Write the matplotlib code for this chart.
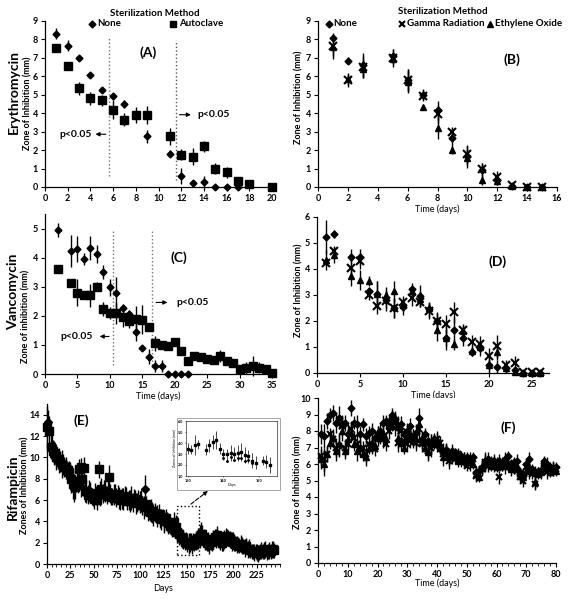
import matplotlib
matplotlib.use("Agg")
import matplotlib.pyplot as plt
from matplotlib.patches import Rectangle
from matplotlib.lines import Line2D
from matplotlib.ticker import MultipleLocator

plt.rcParams['font.family'] = ['Lato', 'DejaVu Sans']
plt.rcParams['font.weight'] = 'bold'
plt.rcParams['font.size'] = 6

# ---------------- data ----------------
# (A) erythromycin
a_none_x = [1, 2, 3, 4, 5, 6, 7, 9, 11, 12, 13, 14, 15, 16, 17]
a_none_y = [8.3, 7.65, 7.0, 6.05, 5.25, 4.95, 4.5, 2.75, 1.8, 0.6, 0.2, 0.25, 0, 0, 0]
a_none_e = [0.3, 0.3, 0.15, 0.15, 0.15, 0.1, 0.2, 0.35, 0.2, 0.45, 0.2, 0.35, 0.05, 0.05, 0.05]
a_auto_x = [1, 2, 3, 4, 5, 6, 7, 8, 9, 11, 12, 13, 14, 15, 16, 17, 18, 20]
a_auto_y = [7.55, 6.55, 5.35, 4.8, 4.7, 4.2, 3.65, 3.9, 3.9, 2.75, 1.75, 1.65, 2.2, 1.0, 0.8, 0.35, 0.15, 0.0]
a_auto_e = [0.05, 0.15, 0.35, 0.35, 0.3, 0.5, 0.35, 0.45, 0.5, 0.45, 0.3, 0.45, 0.3, 0.3, 0.3, 0.2, 0.1, 0.05]

# (B) erythromycin, gamma / EtO
b_x = [1, 2, 3, 5, 6, 7, 8, 9, 10, 11, 12, 13, 14, 15]
b_none_y = [8.1, 6.85, 6.6, 7.1, 5.8, 5.0, 4.15, 2.65, 1.7, 0.9, 0.4, 0.05, 0, 0]
b_none_e = [0.15, 0.2, 0.65, 0.4, 0.6, 0.3, 0.5, 0.6, 0.5, 0.4, 0.3, 0.05, 0.02, 0.02]
b_gam_y = [7.65, 5.8, 6.5, 7.0, 5.8, 4.95, 3.95, 3.0, 1.8, 1.0, 0.55, 0.1, 0, 0]
b_gam_e = [0.7, 0.4, 0.6, 0.5, 0.6, 0.3, 0.5, 0.2, 0.5, 0.3, 0.3, 0.05, 0.02, 0.02]
b_eto_y = [7.6, 5.85, 6.4, 6.95, 5.7, 4.35, 3.2, 2.0, 1.55, 0.4, 0.3, 0.05, 0, 0]
b_eto_e = [0.5, 0.3, 0.5, 0.3, 0.6, 0.1, 0.6, 0.2, 0.5, 0.3, 0.2, 0.05, 0.02, 0.02]

# (C) vancomycin
c_none_x = [2, 4, 5, 6, 7, 8, 9, 10, 11, 12, 13, 14, 15, 16, 17, 18, 19, 20, 21, 22]
c_none_y = [4.95, 4.22, 4.3, 3.95, 4.33, 4.13, 3.5, 2.98, 2.77, 2.27, 2.05, 1.45, 0.9, 0.6,
            0.28, 0.27, 0, 0, 0, 0]
c_none_e = [0.25, 0.55, 0.45, 0.2, 0.4, 0.3, 0.25, 0.3, 0.55, 0.15, 0.15, 0.3, 0.1, 0.25,
            0.2, 0.2, 0.02, 0.02, 0.02, 0.02]
c_auto_x = [2, 4, 5, 6, 7, 8, 9, 10, 11, 12, 13, 14, 15, 16, 17, 18, 19, 20, 21, 22, 23,
            24, 25, 26, 27, 28, 29, 30, 31, 32, 33, 34, 35]
c_auto_y = [3.6, 3.13, 2.8, 2.72, 2.7, 3.0, 2.23, 2.1, 2.08, 1.95, 1.82, 1.88, 1.87, 1.62,
            1.05, 0.98, 0.97, 1.1, 0.8, 0.45, 0.62, 0.57, 0.53, 0.48, 0.62, 0.43, 0.37,
            0.17, 0.2, 0.28, 0.22, 0.17, 0.02]
c_auto_e = [0.1, 0.05, 0.45, 0.15, 0.4, 0.15, 0.25, 0.2, 0.35, 0.35, 0.25, 0.45, 0.5, 0.1,
            0.25, 0.1, 0.05, 0.15, 0.05, 0.1, 0.05, 0.05, 0.1, 0.15, 0.2, 0.1, 0.05,
            0.15, 0.2, 0.35, 0.2, 0.1, 0.05]

# (D) vancomycin, gamma / EtO
d_x = [1, 2, 4, 5, 6, 7, 8, 9, 10, 11, 12, 13, 14, 15, 16, 17, 18, 19, 20, 21, 22, 23, 24, 25, 26]
d_none_y = [5.22, 5.35, 4.48, 4.48, 3.15, 3.05, 2.8, 2.5, 2.55, 3.25, 2.97, 2.45, 2.0, 1.35,
            1.65, 1.35, 0.8, 0.95, 0.3, 0.25, 0.2, 0.1, 0, 0, 0]
d_none_e = [0.65, 0.15, 0.3, 0.3, 0.15, 0.5, 0.3, 0.4, 0.3, 0.2, 0.4, 0.3, 0.35, 0.45,
            0.5, 0.3, 0.15, 0.3, 0.3, 0.25, 0.2, 0.1, 0.02, 0.02, 0.02]
d_gam_y = [4.25, 4.7, 4.02, 4.3, 3.0, 2.57, 2.78, 2.5, 2.75, 2.87, 2.72, 2.38, 2.0, 1.9,
           2.33, 1.65, 1.2, 1.13, 0.67, 1.03, 0.3, 0.37, 0.02, 0.02, 0.02]
d_gam_e = [0.15, 0.2, 0.35, 0.3, 0.2, 0.3, 0.4, 0.4, 0.2, 0.3, 0.2, 0.3, 0.3, 0.35,
           0.4, 0.2, 0.25, 0.3, 0.3, 0.45, 0.2, 0.3, 0.02, 0.02, 0.02]
d_eto_y = [4.35, 4.55, 3.75, 3.58, 3.55, 3.05, 3.0, 3.15, 2.6, 3.15, 2.85, 2.5, 1.65, 1.35,
           1.1, 1.6, 0.85, 1.0, 0.3, 0.8, 0.2, 0.05, 0, 0, 0]
d_eto_e = [0.4, 0.3, 0.4, 0.4, 0.2, 0.5, 0.3, 0.4, 0.2, 0.2, 0.3, 0.2, 0.4, 0.3,
           0.2, 0.3, 0.2, 0.2, 0.2, 0.3, 0.2, 0.05, 0.02, 0.02, 0.02]

# (E) rifampicin
e_sq_x = list(range(0, 246, 2))
e_sq_y = [12.8, 12.5, 11.0, 10.6, 10.4, 10.0, 9.8, 9.6, 9.4, 9.1,
          9.0, 8.8, 8.6, 8.0, 7.5, 7.2, 7.8, 8.9, 9.1, 8.0,
          9.0, 6.8, 6.5, 6.7, 6.3, 6.1, 6.6, 6.0, 8.9, 7.0,
          6.6, 6.8, 6.4, 8.2, 6.6, 6.3, 6.5, 6.2, 6.6, 6.0,
          6.3, 6.1, 6.4, 5.9, 6.0, 6.2, 5.8, 6.1, 5.7, 6.0,
          5.8, 5.5, 5.3, 5.6, 5.0, 4.9, 5.0, 4.6, 4.8, 4.5,
          4.7, 4.2, 4.4, 4.0, 4.3, 3.8, 3.6, 3.4, 3.9, 3.5,
          3.0, 2.8, 2.5, 2.3, 2.1, 2.0, 1.9, 2.1, 1.8, 2.0,
          2.2, 2.4, 2.6, 2.8, 2.5, 2.2, 2.0, 1.8, 2.1, 2.3,
          2.5, 2.7, 2.4, 2.2, 2.0, 2.3, 2.6, 2.5, 2.3, 2.1,
          2.2, 1.9, 1.8, 1.7, 1.9, 1.6, 1.5, 1.7, 1.4, 1.3,
          1.2, 1.1, 1.2, 1.0, 1.1, 1.3, 1.2, 1.4, 1.1, 1.3,
          1.2, 1.4, 1.3]
e_sq_e = [2.0, 1.4, 1.2, 1.0, 1.1, 1.2, 0.9, 1.0, 1.3, 0.9,
          1.0, 0.8, 1.1, 1.3, 1.4, 1.1, 1.0, 0.9, 0.8, 1.2,
          1.0, 1.1, 0.9, 1.0, 0.8, 0.9, 1.0, 0.9, 0.8, 1.1,
          0.9, 1.0, 0.8, 1.1, 0.9, 0.8, 1.0, 0.9, 0.8, 0.9,
          0.8, 1.0, 0.9, 0.8, 0.9, 1.1, 0.9, 0.8, 1.0, 0.9,
          1.0, 0.9, 1.1, 0.8, 1.0, 0.9, 1.1, 1.0, 0.9, 1.0,
          0.9, 1.0, 0.8, 1.1, 0.9, 1.0, 0.8, 0.9, 1.0, 1.1,
          0.9, 1.0, 0.8, 0.9, 0.8, 0.9, 1.0, 0.8, 0.9, 0.8,
          0.9, 1.0, 1.1, 0.9, 0.8, 0.9, 0.8, 0.9, 0.8, 0.9,
          0.8, 0.9, 0.8, 0.9, 0.8, 0.9, 0.8, 0.7, 0.8, 0.9,
          0.8, 0.7, 0.8, 0.7, 0.8, 0.7, 0.8, 0.7, 0.8, 0.7,
          0.7, 0.8, 0.7, 0.8, 0.7, 0.8, 0.7, 0.8, 0.7, 0.8,
          0.7, 0.8, 0.7]
e_di_x = list(range(1, 242, 4))
e_di_y = [13.3, 11.2, 10.3, 9.7, 9.3, 8.8, 8.3, 7.0, 7.6, 7.3,
          6.7, 6.9, 6.2, 6.4, 6.6, 7.0, 6.9, 6.3, 6.6, 6.2,
          6.0, 6.3, 5.9, 6.2, 5.8, 5.9, 7.0, 5.1, 4.8, 4.6,
          4.3, 4.1, 4.0, 3.5, 3.3, 2.9, 2.4, 2.2, 2.0, 2.1,
          2.3, 2.9, 2.4, 2.1, 2.0, 2.4, 2.3, 2.1, 2.5, 2.3,
          2.0, 1.8, 1.7, 1.6, 1.5, 1.2, 1.1, 1.2, 1.3, 1.2, 1.4]
e_di_e = [1.1, 1.0, 0.9, 1.2, 1.0, 0.9, 1.3, 1.2, 0.9, 1.0,
          0.9, 1.0, 0.8, 0.9, 1.2, 0.9, 1.0, 0.8, 0.9, 1.0,
          0.8, 0.9, 1.0, 0.8, 0.9, 1.0, 1.3, 0.9, 1.0, 0.8,
          0.9, 1.0, 0.9, 0.8, 0.9, 0.8, 0.9, 0.8, 0.9, 0.8,
          0.9, 1.0, 0.8, 0.9, 0.8, 0.9, 0.8, 0.9, 0.8, 0.7,
          0.8, 0.7, 0.8, 0.7, 0.8, 0.7, 0.8, 0.7, 0.8, 0.7, 0.8]

# inset of (E)
in_sq_x = [130, 131, 132, 133, 135, 136, 137, 138, 139, 140, 141, 142, 143, 144, 145,
           146, 147, 148, 149, 151, 152, 153]
in_sq_y = [3.5, 3.4, 3.8, 3.9, 3.4, 3.8, 4.1, 4.3, 3.5, 3.0, 3.0, 3.1, 3.0, 3.1, 3.2,
           2.9, 2.8, 2.4, 2.2, 2.4, 2.3, 2.0]
in_sq_e = [0.5, 0.4, 0.9, 0.4, 0.5, 0.6, 0.6, 0.8, 0.5, 0.5, 0.5, 0.7, 0.6, 0.7, 0.8,
           0.7, 0.6, 0.7, 0.6, 0.4, 0.6, 0.7]
in_di_x = [140, 141, 142, 143, 144, 145, 146, 147, 148]
in_di_y = [2.6, 2.4, 2.7, 2.5, 2.6, 2.6, 2.4, 2.5, 2.2]

# (F) rifampicin, gamma / EtO
f_x = list(range(1, 81))
f_none_y = [7.8, 7.7, 8.6, 9.0, 9.1, 8.5, 8.8, 8.4, 8.5, 7.8,
            9.4, 8.5, 8.4, 7.8, 8.4, 7.7, 7.9, 8.0, 7.6, 7.8,
            8.0, 8.5, 8.6, 8.4, 9.0, 8.7, 8.3, 8.4, 7.8, 8.0,
            8.3, 7.7, 7.9, 8.8, 7.5, 7.8, 7.4, 7.2, 7.5, 7.4,
            7.0, 6.8, 6.8, 6.5, 6.8, 6.7, 6.5, 6.5, 6.3, 6.4,
            6.2, 6.4, 5.5, 5.6, 5.8, 6.2, 6.3, 6.0, 6.2, 6.1,
            6.2, 5.9, 6.3, 6.5, 5.9, 6.1, 6.2, 5.5, 5.3, 6.0,
            6.3, 5.7, 5.5, 5.5, 5.6, 6.2, 6.0, 5.8, 5.7, 5.8]
f_gam_y = [6.5, 6.3, 6.6, 7.8, 7.5, 7.0, 7.1, 8.3, 7.0, 7.2,
           8.1, 7.6, 7.2, 6.9, 7.0, 6.6, 7.2, 7.1, 6.9, 7.6,
           7.8, 7.5, 7.2, 8.0, 8.6, 8.2, 7.3, 8.0, 7.4, 7.2,
           7.5, 7.7, 7.3, 8.1, 7.2, 7.3, 6.8, 7.0, 7.3, 7.5,
           7.3, 6.6, 6.8, 6.2, 6.4, 6.3, 6.6, 6.1, 6.3, 5.9,
           6.0, 6.3, 5.3, 5.4, 5.7, 6.1, 5.9, 6.2, 5.9, 6.0,
           5.2, 6.1, 5.8, 6.0, 5.8, 5.7, 5.6, 5.2, 5.0, 5.8,
           5.5, 5.4, 4.8, 5.5, 5.6, 5.9, 5.5, 5.6, 5.7, 5.7]
f_eto_y = [6.3, 6.0, 6.6, 7.3, 7.6, 6.8, 7.2, 8.0, 6.8, 7.5,
           7.9, 7.2, 6.8, 7.0, 6.6, 6.4, 7.0, 7.3, 7.1, 7.8,
           7.6, 7.9, 7.5, 8.3, 8.9, 8.6, 7.6, 7.3, 7.0, 7.6,
           7.8, 7.4, 7.5, 8.4, 7.4, 7.0, 6.7, 7.2, 7.4, 7.2,
           7.0, 6.4, 6.9, 6.4, 6.6, 6.4, 6.2, 6.3, 6.2, 6.1,
           6.3, 6.0, 5.4, 5.2, 5.8, 6.0, 6.1, 5.9, 6.1, 5.8,
           6.0, 5.9, 6.1, 5.9, 5.7, 5.8, 5.9, 5.3, 5.2, 5.6,
           5.8, 5.6, 4.9, 5.4, 5.5, 6.0, 5.8, 5.5, 5.8, 5.6]
f_err = [0.6, 0.7, 0.5, 0.4, 0.5, 0.6, 0.7, 0.6, 0.5, 0.6,
         0.5, 0.4, 0.6, 0.5, 0.4, 0.5, 0.4, 0.5, 0.4, 0.5,
         0.4, 0.5, 0.4, 0.5, 0.4, 0.5, 0.6, 0.5, 0.4, 0.5,
         0.5, 0.4, 0.5, 0.6, 0.5, 0.4, 0.5, 0.6, 0.4, 0.5,
         0.4, 0.5, 0.4, 0.5, 0.4, 0.3, 0.4, 0.3, 0.4, 0.3,
         0.4, 0.3, 0.4, 0.3, 0.4, 0.5, 0.4, 0.3, 0.4, 0.3,
         0.4, 0.3, 0.4, 0.3, 0.4, 0.3, 0.4, 0.3, 0.4, 0.3,
         0.4, 0.3, 0.4, 0.3, 0.4, 0.3, 0.4, 0.3, 0.4, 0.3]

# ---------------- layout helpers ----------------
W, H = 569, 599


def fx(px):
    return px / W


def fy(py):
    return 1 - py / H


def box(l, r, t, b):
    return [l / W, 1 - b / H, (r - l) / W, (b - t) / H]


def style(ax, xlim, ylim, xmaj, ymaj, xmin=None):
    ax.set_xlim(*xlim)
    ax.set_ylim(*ylim)
    ax.xaxis.set_major_locator(MultipleLocator(xmaj))
    ax.yaxis.set_major_locator(MultipleLocator(ymaj))
    if xmin:
        ax.xaxis.set_minor_locator(MultipleLocator(xmin))
    for s in ("top", "right"):
        ax.spines[s].set_visible(False)
    for s in ("left", "bottom"):
        ax.spines[s].set_linewidth(0.9)
    ax.tick_params(which="major", direction="out", length=3, width=0.8, labelsize=6.5, pad=2)
    ax.tick_params(which="minor", direction="out", length=2, width=0.6)


def eb(ax, x, y, e, fmt, ms, mew=1.0):
    ax.errorbar(x, y, yerr=e, fmt=fmt, color="k", ms=ms, mew=mew, elinewidth=1.0,
                capsize=0, clip_on=False, zorder=3)


def vlab(x, y, s, size):
    fig.text(fx(x), fy(y), s, rotation=90, ha="center", va="center", fontsize=size,
             fontweight="bold")


def mark(x, y, m, ms, mew=1.0):
    fig.add_artist(Line2D([fx(x)], [fy(y)], marker=m, ms=ms, mew=mew, color="k",
                          transform=fig.transFigure))


fig = plt.figure(figsize=(W / 100, H / 100), dpi=100)

# ---------------- (A) ----------------
axA = fig.add_axes(box(45, 272, 21, 187))
eb(axA, a_none_x, a_none_y, a_none_e, "D", 3.5)
eb(axA, a_auto_x, a_auto_y, a_auto_e, "s", 5.5)
style(axA, (0, 20), (0, 9), 2, 1)
axA.plot([5.68, 5.68], [0.58, 8.1], ls=":", color="0.45", lw=1)
axA.plot([11.56, 11.56], [0.36, 7.95], ls=":", color="0.35", lw=1)
axA.annotate("", xy=(4.2, 2.86), xytext=(5.6, 2.86),
             arrowprops=dict(arrowstyle="-|>", color="k", lw=0.8, mutation_scale=6))
axA.text(4.1, 2.86, "p<0.05", ha="right", va="center", fontsize=7.5)
axA.annotate("", xy=(13.1, 3.92), xytext=(11.6, 3.92),
             arrowprops=dict(arrowstyle="-|>", color="k", lw=0.8, mutation_scale=6))
axA.text(13.4, 3.92, "p<0.05", ha="left", va="center", fontsize=7.5)
axA.text(9.1, 7.27, "(A)", ha="center", va="center", fontsize=10)
vlab(14, 92, "Erythromycin", 10)
vlab(28, 103, "Zone of Inhibition (mm)", 6.5)

fig.text(fx(155), fy(13), "Sterilization Method", ha="center", va="center", fontsize=7)
mark(92, 24, "D", 3.5)
fig.text(fx(97), fy(24), "None", ha="left", va="center", fontsize=7)
mark(173, 24, "s", 5)
fig.text(fx(179), fy(24), "Autoclave", ha="left", va="center", fontsize=7)

# ---------------- (B) ----------------
axB = fig.add_axes(box(318, 557, 21, 187))
eb(axB, b_x, b_none_y, b_none_e, "D", 3.5)
eb(axB, b_x, b_gam_y, b_gam_e, "x", 5.5, mew=1.5)
eb(axB, b_x, b_eto_y, b_eto_e, "^", 4.5)
style(axB, (0, 16), (0, 9), 2, 1)
axB.text(13.0, 6.9, "(B)", ha="center", va="center", fontsize=10)
axB.set_xlabel("Time (days)", fontsize=6.5, labelpad=1)
vlab(299, 97, "Zone of Inhibition (mm)", 6.5)

fig.text(fx(443), fy(11), "Sterilization Method", ha="center", va="center", fontsize=7)
mark(329, 24, "D", 3.5)
fig.text(fx(333), fy(24), "None", ha="left", va="center", fontsize=7)
mark(402, 24, "x", 5, mew=1.5)
fig.text(fx(407), fy(24), "Gamma Radiation", ha="left", va="center", fontsize=7)
mark(490, 24, "^", 4.5)
fig.text(fx(495), fy(24), "Ethylene Oxide", ha="left", va="center", fontsize=7)

# ---------------- (C) ----------------
axC = fig.add_axes(box(45, 272, 214, 374))
eb(axC, c_none_x, c_none_y, c_none_e, "D", 3.5)
eb(axC, c_auto_x, c_auto_y, c_auto_e, "s", 5.5)
style(axC, (0, 35), (0, 5.5), 5, 1)
axC.plot([10.45, 10.45], [0.3, 5.0], ls=":", color="0.45", lw=1)
axC.plot([16.5, 16.5], [0.3, 4.9], ls=":", color="0.45", lw=1)
axC.annotate("", xy=(8.0, 1.29), xytext=(10.3, 1.29),
             arrowprops=dict(arrowstyle="-|>", color="k", lw=0.8, mutation_scale=6))
axC.text(7.3, 1.29, "p<0.05", ha="right", va="center", fontsize=7.5)
axC.annotate("", xy=(19.3, 2.46), xytext=(16.7, 2.46),
             arrowprops=dict(arrowstyle="-|>", color="k", lw=0.8, mutation_scale=6))
axC.text(20.2, 2.46, "p<0.05", ha="left", va="center", fontsize=7.5)
axC.text(20.6, 4.0, "(C)", ha="center", va="center", fontsize=10)
axC.set_xlabel("Time (days)", fontsize=6.5, labelpad=1)
vlab(13, 292, "Vancomycin", 10)
vlab(26, 316, "Zone of inhibition (mm)", 6.5)

# ---------------- (D) ----------------
axD = fig.add_axes(box(317, 549, 217, 373))
eb(axD, d_x, d_none_y, d_none_e, "D", 3.5)
eb(axD, d_x, d_gam_y, d_gam_e, "x", 5.5, mew=1.5)
eb(axD, d_x, d_eto_y, d_eto_e, "^", 4.5)
style(axD, (0, 27), (0, 6), 5, 1)
axD.text(21.0, 4.3, "(D)", ha="center", va="center", fontsize=10)
axD.set_xlabel("Time (days)", fontsize=6.5, labelpad=1)
vlab(299, 290, "Zone of Inhibition (mm)", 6.5)

# ---------------- (E) ----------------
axE = fig.add_axes(box(47, 280, 404, 564))
eb(axE, e_sq_x, e_sq_y, e_sq_e, "s", 5.5)
eb(axE, e_di_x, e_di_y, e_di_e, "D", 4)
style(axE, (0, 250), (0, 15), 25, 2, xmin=5)
axE.set_xticks(range(0, 250, 25))
axE.text(37, 13.4, "(E)", ha="center", va="center", fontsize=10)
axE.set_xlabel("Days", fontsize=6.5, labelpad=3)
axE.add_patch(Rectangle((139, 0.8), 24, 4.6, fill=False, ls=":", lw=1, ec="k", zorder=4))
axE.annotate("", xy=(175, 7.0), xytext=(152, 5.45),
             arrowprops=dict(arrowstyle="-|>", ls="--", color="k", lw=0.8, mutation_scale=6))
vlab(13, 487, "Rifampicin", 10)
vlab(25, 485, "Zones of Inhibition (mm)", 6.5)

# inset frame and axes
fig.add_artist(Rectangle((fx(177), fy(490)), (280 - 177) / W, (490 - 418) / H,
                         transform=fig.transFigure, fc="white", ec="0.6", lw=0.6, zorder=1))
axI = fig.add_axes(box(186, 277, 421, 476), zorder=2)
axI.errorbar(in_sq_x, in_sq_y, yerr=in_sq_e, fmt="s", color="k", ms=1.8,
             elinewidth=0.5, capsize=0)
axI.plot(in_di_x, in_di_y, "D", color="k", ms=1)
axI.set_xlim(129.5, 155)
axI.set_ylim(1, 6)
axI.set_xticks([130, 140, 150])
axI.set_yticks([1, 2, 3, 4, 5, 6])
axI.set_yticklabels(["1.0", "2.0", "3.0", "4.0", "5.0", "6.0"])
axI.tick_params(labelsize=2.8, length=1, width=0.4, pad=1)
for s in axI.spines.values():
    s.set_linewidth(0.4)
axI.set_xlabel("Days", fontsize=2.8, labelpad=0.5, fontweight="normal")
axI.set_ylabel("Zones of Inhibition (mm)", fontsize=2.5, labelpad=1, fontweight="normal")

# ---------------- (F) ----------------
axF = fig.add_axes(box(318, 556, 398, 563))
eb(axF, f_x, f_none_y, f_err, "D", 3.5)
eb(axF, f_x, f_gam_y, f_err, "x", 5, mew=1.5)
eb(axF, f_x, f_eto_y, f_err, "^", 4)
style(axF, (0, 80), (0, 10), 10, 1, xmin=2)
axF.text(64, 8.2, "(F)", ha="center", va="center", fontsize=10)
axF.set_xlabel("Time (days)", fontsize=6.5, labelpad=0)
vlab(298, 482, "Zone of Inhibition (mm)", 6.5)

fig.savefig("out.png", dpi=100, facecolor="white")
